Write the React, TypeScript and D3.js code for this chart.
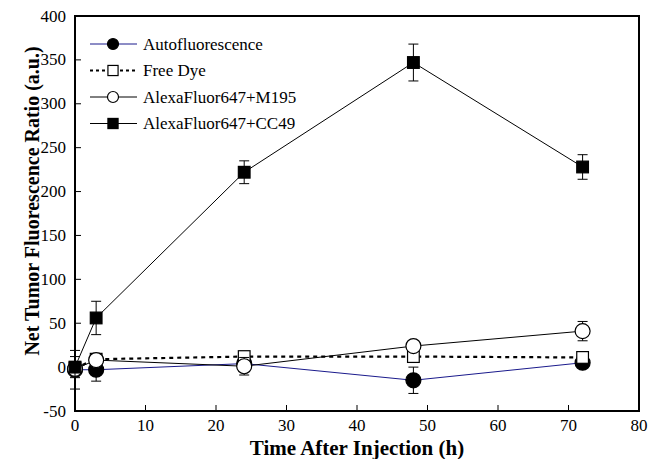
import React from "react";
import * as d3 from "d3";

const times = [0, 3, 24, 48, 72];
const autoVals = [-3, -3, 4, -15, 5];
const autoErr = [22, 13, 5, 15, 4];
const freeVals = [-1, 9, 12, 12, 11];
const freeErr = [5, 4, 4, 4, 4];
const m195Vals = [-2, 8, 1, 24, 41];
const m195Err = [8, 5, 10, 5, 11];
const cc49Vals = [0, 56, 222, 347, 228];
const cc49Err = [12, 19, 13, 21, 14];

const xTicks = [0, 10, 20, 30, 40, 50, 60, 70, 80];
const yTicks = [-50, 0, 50, 100, 150, 200, 250, 300, 350, 400];

const seriesNames = ["Autofluorescence", "Free Dye", "AlexaFluor647+M195", "AlexaFluor647+CC49"];

type Series = {
  name: string;
  vals: number[];
  err: number[];
  color: string;
  dash?: string;
  width: number;
  marker: "circle" | "square";
  filled: boolean;
};

const series: Series[] = [
  { name: seriesNames[0], vals: autoVals, err: autoErr, color: "#1a1a8c", width: 1, marker: "circle", filled: true },
  { name: seriesNames[1], vals: freeVals, err: freeErr, color: "#000", dash: "4,4", width: 2.2, marker: "square", filled: false },
  { name: seriesNames[2], vals: m195Vals, err: m195Err, color: "#000", width: 1, marker: "circle", filled: false },
  { name: seriesNames[3], vals: cc49Vals, err: cc49Err, color: "#000", width: 1, marker: "square", filled: true },
];

const FONT = "Liberation Serif, Times New Roman, DejaVu Serif, serif";

function Marker({ s, x, y, size }: { s: Series; x: number; y: number; size: number }) {
  const fill = s.filled ? "#000" : "#fff";
  if (s.marker === "circle") {
    return <circle cx={x} cy={y} r={size / 2} fill={fill} stroke="#000" strokeWidth={1.2} />;
  }
  const a = size * 0.78;
  return <rect x={x - a / 2} y={y - a / 2} width={a} height={a} fill={fill} stroke="#000" strokeWidth={1.2} />;
}

export default function App() {
  const W = 650, H = 459;
  const left = 75, right = 639, top = 16, bottom = 411;
  const x = d3.scaleLinear().domain([0, 80]).range([left, right]);
  const y = d3.scaleLinear().domain([-50, 400]).range([bottom, top]);

  const line = d3
    .line<number>()
    .x((_, i) => x(times[i]))
    .y((v) => y(v));

  const legendY0 = 44;
  const legendDy = 26.5;
  const ts: React.CSSProperties = { fontFamily: FONT };

  return (
    <svg width={W} height={H} style={{ position: "absolute", left: 0, top: 0, fontFamily: FONT }}>
      <rect x={0} y={0} width={W} height={H} fill="#fff" />
      {/* ticks */}
      {xTicks.map((t) => (
        <g key={"xt" + t}>
          <line x1={x(t)} x2={x(t)} y1={bottom} y2={bottom - 6} stroke="#000" strokeWidth={1} />
          <text x={x(t)} y={bottom + 20} textAnchor="middle" fontSize={17} style={ts}>
            {t}
          </text>
        </g>
      ))}
      {yTicks.map((t) => (
        <g key={"yt" + t}>
          <line x1={left} x2={left + 6} y1={y(t)} y2={y(t)} stroke="#000" strokeWidth={1} />
          <text x={left - 9} y={y(t) + 5.5} textAnchor="end" fontSize={17} style={ts}>
            {t}
          </text>
        </g>
      ))}
      {/* frame */}
      <rect x={left} y={top} width={right - left} height={bottom - top} fill="none" stroke="#000" strokeWidth={2} />

      {/* series */}
      {series.map((s) => (
        <g key={s.name}>
          <path d={line(s.vals) || ""} fill="none" stroke={s.color} strokeWidth={s.width} strokeDasharray={s.dash} />
          {s.vals.map((v, i) => (
            <g key={i}>
              <line x1={x(times[i])} x2={x(times[i])} y1={y(v - s.err[i])} y2={y(v + s.err[i])} stroke="#000" strokeWidth={1} />
              <line x1={x(times[i]) - 5} x2={x(times[i]) + 5} y1={y(v - s.err[i])} y2={y(v - s.err[i])} stroke="#000" strokeWidth={1} />
              <line x1={x(times[i]) - 5} x2={x(times[i]) + 5} y1={y(v + s.err[i])} y2={y(v + s.err[i])} stroke="#000" strokeWidth={1} />
            </g>
          ))}
          {s.vals.map((v, i) => (
            <Marker key={"m" + i} s={s} x={x(times[i])} y={y(v)} size={15} />
          ))}
        </g>
      ))}

      {/* legend */}
      {series.map((s, i) => {
        const ly = legendY0 + i * legendDy;
        return (
          <g key={"lg" + s.name}>
            <line x1={90} x2={137} y1={ly} y2={ly} stroke={s.color} strokeWidth={s.width} strokeDasharray={s.dash ? "3,3" : undefined} />
            <Marker s={s} x={113} y={ly} size={s.marker === "circle" ? 11 : 13} />
            <text x={143} y={ly + 5.5} fontSize={17} style={ts}>
              {s.name}
            </text>
          </g>
        );
      })}

      {/* axis titles */}
      <text x={357} y={455} textAnchor="middle" fontSize={21} fontWeight="bold" style={ts}>
        Time After Injection (h)
      </text>
      <text
        transform={`translate(39, 201) rotate(-90)`}
        textAnchor="middle"
        fontSize={20}
        fontWeight="bold"
        style={ts}
      >
        Net Tumor Fluorescence Ratio (a.u.)
      </text>
    </svg>
  );
}
